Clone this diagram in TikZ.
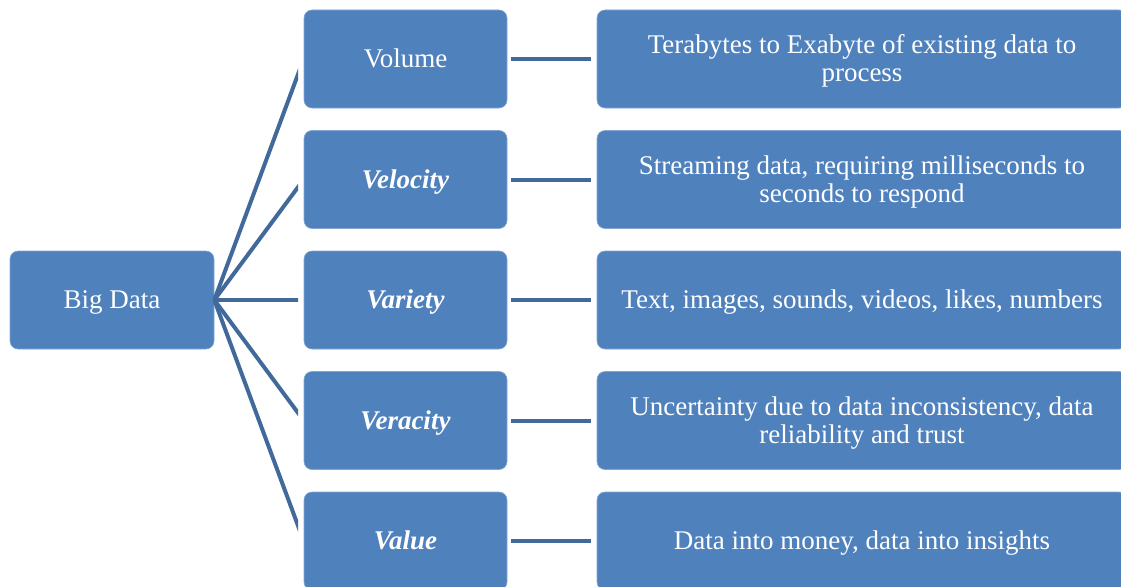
\documentclass[tikz,border=0pt]{standalone}
\usepackage{fontspec}
\setmainfont{Liberation Serif}
\definecolor{boxblue}{HTML}{4F81BD}
\definecolor{lineblue}{HTML}{41699A}
\newcommand{\lowtxt}[1]{\raisebox{-3pt}[\height][\depth]{\begin{tabular}{@{}c@{}}#1\end{tabular}}}
\begin{document}
\begin{tikzpicture}[x=1pt,y=-1pt,
  blk/.style={fill=boxblue, draw=boxblue!70!white, line width=0.6pt, rounded corners=8pt,
    text=white, inner sep=0pt, font=\fontsize{27}{28}\selectfont},
  mid/.style={blk, minimum width=203pt, minimum height=98pt},
  desc/.style={blk, minimum width=530pt, minimum height=98pt},
  conn/.style={draw=lineblue, line width=4pt}
]
\useasboundingbox (0,0) rectangle (1121,586);
\node[blk, minimum width=204pt, minimum height=98pt] (big) at (112,300) {\lowtxt{Big Data}};
\node[mid] (m1) at (405.5,59) {\lowtxt{Volume}};
\node[mid] (m2) at (405.5,179.5) {\lowtxt{\textbf{\textit{Velocity}}}};
\node[mid] (m3) at (405.5,300) {\lowtxt{\textbf{\textit{Variety}}}};
\node[mid] (m4) at (405.5,420.5) {\lowtxt{\textbf{\textit{Veracity}}}};
\node[mid] (m5) at (405.5,541) {\lowtxt{\textbf{\textit{Value}}}};
\node[desc] (d1) at (862,59) {\lowtxt{Terabytes to Exabyte of existing data to\\process}};
\node[desc] (d2) at (862,179.5) {\lowtxt{Streaming data, requiring milliseconds to\\seconds to respond}};
\node[desc] (d3) at (862,300) {\lowtxt{Text, images, sounds, videos, likes, numbers}};
\node[desc] (d4) at (862,420.5) {\lowtxt{Uncertainty due to data inconsistency, data\\reliability and trust}};
\node[desc] (d5) at (862,541) {\lowtxt{Data into money, data into insights}};
\begin{scope}
\clip (213,0) rectangle (298,586);
\foreach \i in {1,...,5}{
  \draw[conn] (big.east) -- (m\i.west);
}
\end{scope}
\foreach \i in {1,...,5}{
  \draw[conn, shorten <=4pt, shorten >=6pt] (m\i.east) -- (d\i.west);
}
\end{tikzpicture}
\end{document}
